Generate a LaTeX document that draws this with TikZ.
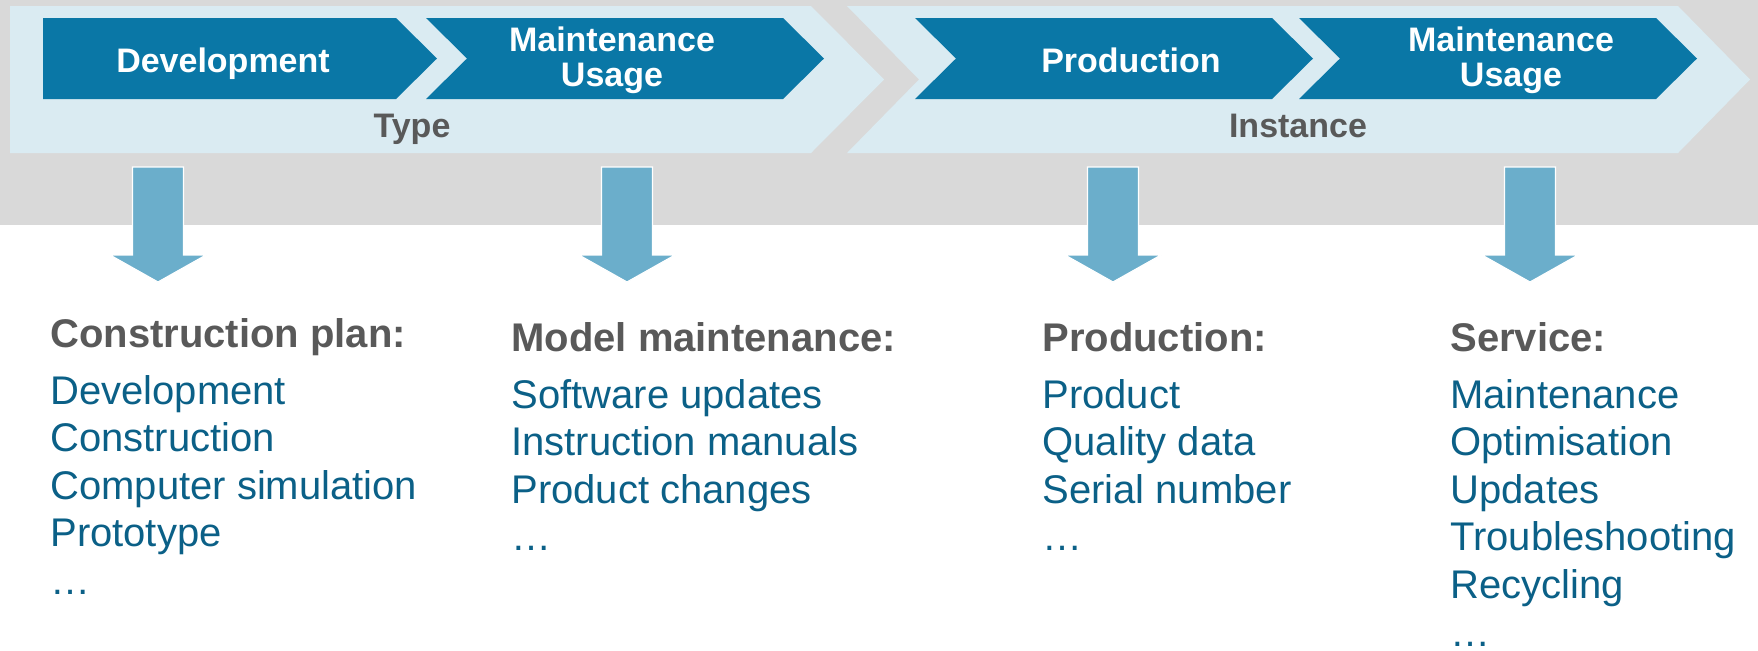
\documentclass[tikz,border=0pt]{standalone}
\usepackage{fontspec}
\setmainfont{Liberation Sans}
\definecolor{bggrey}{HTML}{D9D9D9}
\definecolor{bandblue}{HTML}{DAEBF2}
\definecolor{darkblue}{HTML}{0A77A6}
\definecolor{arrowblue}{HTML}{6BAECB}
\definecolor{itemblue}{HTML}{0B6087}
\definecolor{headgrey}{HTML}{595959}
\tikzset{
  band/.style={fill=bandblue},
  chev/.style={fill=darkblue},
  chevtext/.style={text=white, font=\fontsize{17}{17.5}\selectfont\bfseries, inner sep=0pt, align=center},
  bandtext/.style={text=headgrey, font=\fontsize{17}{17.5}\selectfont\bfseries, inner sep=0pt, anchor=base},
  downarrow/.style={fill=arrowblue, draw=white, line width=0.6pt},
  colhead/.style={text=headgrey, font=\fontsize{20}{24}\selectfont\bfseries, inner sep=0pt, anchor=base west},
  colitem/.style={text=itemblue, font=\fontsize{20}{24}\selectfont, inner sep=0pt, anchor=base west}
}
\begin{document}
\begin{tikzpicture}[x=0.5pt,y=-0.5pt]
\useasboundingbox (0,0) rectangle (1758,650);
\fill[bggrey] (0,0) rectangle (1758,225);
% light bands
\fill[band] (10,6) -- (811,6) -- (884,79.5) -- (811,153) -- (10,153) -- cycle;
\fill[band] (847,6) -- (1678,6) -- (1750,79.5) -- (1678,153) -- (847,153) -- (919,79.5) -- cycle;
% dark chevrons
\fill[chev] (43,18) -- (396,18) -- (437,58.5) -- (396,99) -- (43,99) -- cycle;
\fill[chev] (426,18) -- (783,18) -- (824,58.5) -- (783,99) -- (426,99) -- (467,58.5) -- cycle;
\fill[chev] (915,18) -- (1272,18) -- (1313,58.5) -- (1272,99) -- (915,99) -- (956,58.5) -- cycle;
\fill[chev] (1299,18) -- (1656,18) -- (1697,58.5) -- (1656,99) -- (1299,99) -- (1340,58.5) -- cycle;
% chevron texts
\node[chevtext, anchor=base] (dev) at (223,72) {Development};
\node[chevtext] (mu1) at (612,60) {Maintenance\\Usage};
\node[chevtext, anchor=base] (prod) at (1131,72) {Production};
\node[chevtext] (mu2) at (1511,60) {Maintenance\\Usage};
\node[bandtext] (type) at (412,137) {Type};
\node[bandtext] (inst) at (1298,137) {Instance};
% block arrows
\foreach \cx in {158,627,1113,1530}
  \draw[downarrow] (\cx-25.5,167) -- (\cx+25.5,167) -- (\cx+25.5,255) -- (\cx+48,255)
    -- (\cx,282) -- (\cx-48,255) -- (\cx-25.5,255) -- cycle;
% column 1
\node[colhead] (h1) at (50,347) {Construction plan:};
\node[colitem] (a1) at (50,404) {Development};
\node[colitem] (a2) at (50,451.6) {Construction};
\node[colitem] (a3) at (50,499.2) {Computer simulation};
\node[colitem] (a4) at (50,546.8) {Prototype};
\node[colitem] (a5) at (50,594.4) {…};
% column 2
\node[colhead] (h2) at (511,351) {Model maintenance:};
\node[colitem] (b1) at (511,408) {Software updates};
\node[colitem] (b2) at (511,455.6) {Instruction manuals};
\node[colitem] (b3) at (511,503.2) {Product changes};
\node[colitem] (b4) at (511,550.8) {…};
% column 3
\node[colhead] (h3) at (1042,351) {Production:};
\node[colitem] (c1) at (1042,408) {Product};
\node[colitem] (c2) at (1042,455.6) {Quality data};
\node[colitem] (c3) at (1042,503.2) {Serial number};
\node[colitem] (c4) at (1042,550.8) {…};
% column 4
\node[colhead] (h4) at (1450,351) {Service:};
\node[colitem] (d1) at (1450,408) {Maintenance};
\node[colitem] (d2) at (1450,455.6) {Optimisation};
\node[colitem] (d3) at (1450,503.2) {Updates};
\node[colitem] (d4) at (1450,550.8) {Troubleshooting};
\node[colitem] (d5) at (1450,598.4) {Recycling};
\node[colitem] (d6) at (1450,646) {…};
\end{tikzpicture}
\end{document}
